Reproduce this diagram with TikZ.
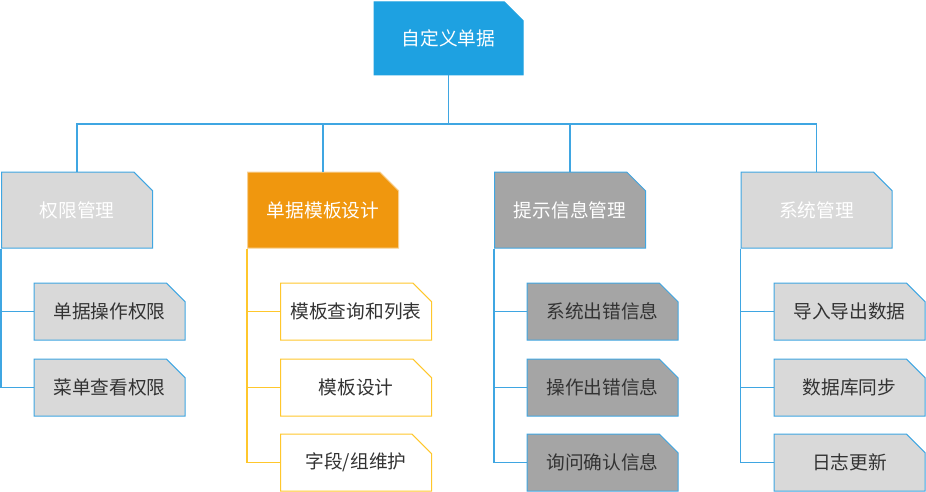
\documentclass[tikz,border=0pt]{standalone}
\usepackage{fontspec}
\newfontfamily\cjk{Noto Sans CJK SC}
\usetikzlibrary{shapes.misc,positioning}
\definecolor{rootblue}{HTML}{1EA1E1}
\definecolor{lineblue}{HTML}{3FA6E2}
\definecolor{lightgray}{HTML}{D9D9D9}
\definecolor{midgray}{HTML}{A5A5A5}
\definecolor{tplorange}{HTML}{F0970E}
\definecolor{tplline}{HTML}{FFC72C}
\definecolor{txt}{HTML}{333333}
\begin{document}
\begin{tikzpicture}[x=1pt,y=-1pt,
  box/.style={chamfered rectangle,chamfered rectangle corners=north east,chamfered rectangle xsep=10pt,chamfered rectangle ysep=10pt,inner sep=0pt,line width=1pt,draw=lineblue,font=\cjk\fontsize{18.7}{22}\selectfont},
  top/.style={box,minimum width=149pt,minimum height=73pt,fill=rootblue,draw=rootblue,text=white},
  grp/.style={box,minimum width=151pt,minimum height=76pt,text=white},
  leaf/.style={box,minimum width=151pt,minimum height=57pt,text=txt},
  tree/.style={draw=lineblue,line width=1.3pt}]
  \useasboundingbox (0,0) rectangle (926,492);
  \node[top] (root) at (448.5,38.5) {自定义单据};
  \coordinate (bus) at (0,124);

  \node[grp,fill=lightgray] (perm) at (77,210) {权限管理};
  \node[grp,fill=tplorange,draw=tplorange!45] (tpl) at (323,210) {单据模板设计};
  \node[grp,fill=midgray] (msg) at (570,210) {提示信息管理};
  \node[grp,fill=lightgray] (sys) at (816.5,210) {系统管理};

  \node[leaf,fill=lightgray] (perm1) at (109.5,311.5) {单据操作权限};
  \node[leaf,fill=lightgray] (perm2) at (109.5,387.5) {菜单查看权限};

  \node[leaf,fill=white,draw=tplline] (tpl1) at (356,311.5) {模板查询和列表};
  \node[leaf,fill=white,draw=tplline] (tpl2) at (356,387.5) {模板设计};
  \node[leaf,fill=white,draw=tplline] (tpl3) at (356,462.5) {字段/组维护};

  \node[leaf,fill=midgray] (msg1) at (602.5,311.5) {系统出错信息};
  \node[leaf,fill=midgray] (msg2) at (602.5,387.5) {操作出错信息};
  \node[leaf,fill=midgray] (msg3) at (602.5,462.5) {询问确认信息};

  \node[leaf,fill=lightgray] (sys1) at (849.5,311.5) {导入导出数据};
  \node[leaf,fill=lightgray] (sys2) at (849.5,387.5) {数据库同步};
  \node[leaf,fill=lightgray] (sys3) at (849.5,462.5) {日志更新};

  \draw[tree] (root.south) -- (root.south |- bus);
  \draw[tree] (root.south |- bus) -| (perm.north);
  \draw[tree] (root.south |- bus) -| (tpl.north);
  \draw[tree] (root.south |- bus) -| (msg.north);
  \draw[tree] (root.south |- bus) -| (sys.north);

  \draw[tree] (perm.south -| perm.west) |- (perm1.west);
  \draw[tree] (perm.south -| perm.west) |- (perm2.west);
  \draw[tree,draw=tplline] (tpl.south -| tpl.west) |- (tpl1.west);
  \draw[tree,draw=tplline] (tpl.south -| tpl.west) |- (tpl2.west);
  \draw[tree,draw=tplline] (tpl.south -| tpl.west) |- (tpl3.west);
  \draw[tree] (msg.south -| msg.west) |- (msg1.west);
  \draw[tree] (msg.south -| msg.west) |- (msg2.west);
  \draw[tree] (msg.south -| msg.west) |- (msg3.west);
  \draw[tree] (sys.south -| sys.west) |- (sys1.west);
  \draw[tree] (sys.south -| sys.west) |- (sys2.west);
  \draw[tree] (sys.south -| sys.west) |- (sys3.west);
\end{tikzpicture}
\end{document}
